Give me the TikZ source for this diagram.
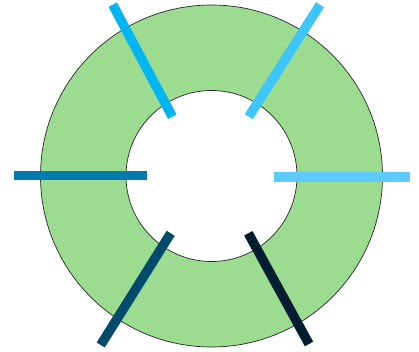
\documentclass[tikz,border=0pt]{standalone}
\begin{document}
\begin{tikzpicture}[x=1pt,y=-1pt,
  ring/.style={draw=black!85,line width=0.7pt},
  bar/.style={line width=9.5pt,line cap=butt}]
\definecolor{ringgreen}{HTML}{9CDC91}
\definecolor{cTL}{HTML}{00B5F2}
\definecolor{cTR}{HTML}{3EC6FA}
\definecolor{cL}{HTML}{007BB0}
\definecolor{cR}{HTML}{5CCBF9}
\definecolor{cBL}{HTML}{004A6B}
\definecolor{cBR}{HTML}{001E30}
\useasboundingbox (0,0) rectangle (419,352);
\coordinate (c) at (211.5,176);
\fill[ringgreen,even odd rule] (c) circle[radius=171] (c) circle[radius=85.5];
\draw[ring] (c) circle[radius=171];
\draw[ring] (c) circle[radius=85.5];
\draw[bar,cTL] (172.3,116.7) -- (112.7,4.7);
\draw[bar,cTR] (248.7,116.7) -- (320,4.7);
\draw[bar,cL] (147.3,175.5) -- (14,175.5);
\draw[bar,cR] (274,177) -- (409.5,177);
\draw[bar,cBL] (170.7,233.3) -- (100.7,345);
\draw[bar,cBR] (248.3,233.3) -- (309,344);
\end{tikzpicture}
\end{document}
